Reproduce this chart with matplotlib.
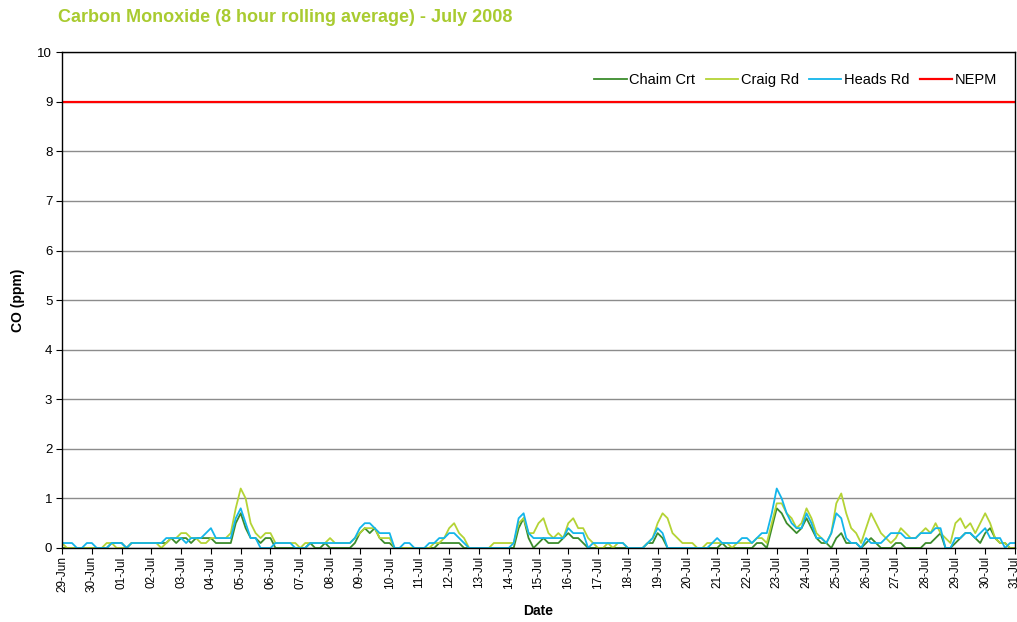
import numpy as np
import pandas as pd
import matplotlib
matplotlib.use("Agg")
import matplotlib.pyplot as plt
import matplotlib.dates as mdates

plt.rcParams["font.family"] = ["Liberation Sans", "DejaVu Sans"]

GREEN = "#3c8c2c"
LIME = "#b4d335"
BLUE = "#13b5ea"
RED = "#ff0000"
TITLE = "#a9cb30"

# 8-hour rolling CO, sampled every 4 hours from 29-Jun 00:00 (one row per day)
chaim_crt = [
    0, 0, 0, 0, 0, 0,
    0, 0, 0, 0, 0.1, 0.1,
    0.1, 0, 0.1, 0.1, 0.1, 0.1,
    0.1, 0.1, 0.1, 0.1, 0.2, 0.1,
    0.2, 0.2, 0.1, 0.2, 0.2, 0.2,
    0.2, 0.1, 0.1, 0.1, 0.1, 0.5,
    0.7, 0.4, 0.2, 0.2, 0.1, 0.2,
    0.2, 0, 0, 0, 0, 0,
    0, 0, 0.1, 0, 0, 0.1,
    0, 0, 0, 0, 0, 0.1,
    0.3, 0.4, 0.3, 0.4, 0.2, 0.1,
    0.1, 0, 0, 0, 0, 0,
    0, 0, 0, 0, 0.1, 0.1,
    0.1, 0.1, 0.1, 0, 0, 0,
    0, 0, 0, 0, 0, 0,
    0, 0, 0.4, 0.6, 0.2, 0,
    0.1, 0.2, 0.1, 0.1, 0.1, 0.2,
    0.3, 0.2, 0.2, 0.1, 0, 0,
    0, 0, 0, 0, 0, 0,
    0, 0, 0, 0, 0.1, 0.1,
    0.3, 0.2, 0, 0, 0, 0,
    0, 0, 0, 0, 0, 0,
    0, 0.1, 0, 0, 0, 0,
    0, 0, 0.1, 0.1, 0, 0.4,
    0.8, 0.7, 0.5, 0.4, 0.3, 0.4,
    0.6, 0.4, 0.2, 0.1, 0.1, 0,
    0.2, 0.3, 0.1, 0.1, 0.1, 0,
    0.1, 0.2, 0.1, 0, 0, 0,
    0.1, 0.1, 0, 0, 0, 0,
    0.1, 0.1, 0.2, 0.3, 0, 0,
    0.1, 0.2, 0.3, 0.3, 0.2, 0.1,
    0.3, 0.4, 0.2, 0.1, 0.1, 0,
    0,
]
craig_rd = [
    0.1, 0, 0, 0, 0, 0,
    0, 0, 0, 0.1, 0.1, 0,
    0, 0, 0.1, 0.1, 0.1, 0.1,
    0.1, 0.1, 0, 0.1, 0.2, 0.2,
    0.3, 0.3, 0.2, 0.2, 0.1, 0.1,
    0.2, 0.2, 0.2, 0.2, 0.3, 0.8,
    1.2, 1.0, 0.5, 0.3, 0.2, 0.3,
    0.3, 0.1, 0.1, 0.1, 0.1, 0.1,
    0, 0.1, 0.1, 0.1, 0.1, 0.1,
    0.2, 0.1, 0.1, 0.1, 0.1, 0.2,
    0.3, 0.4, 0.4, 0.4, 0.2, 0.2,
    0.2, 0, 0, 0, 0, 0,
    0, 0, 0, 0.1, 0.1, 0.2,
    0.4, 0.5, 0.3, 0.2, 0, 0,
    0, 0, 0, 0.1, 0.1, 0.1,
    0.1, 0.1, 0.5, 0.6, 0.3, 0.3,
    0.5, 0.6, 0.3, 0.2, 0.3, 0.2,
    0.5, 0.6, 0.4, 0.4, 0.2, 0.1,
    0, 0, 0.1, 0, 0.1, 0.1,
    0, 0, 0, 0, 0.1, 0.2,
    0.5, 0.7, 0.6, 0.3, 0.2, 0.1,
    0.1, 0.1, 0, 0, 0.1, 0.1,
    0.1, 0.1, 0.1, 0, 0.1, 0.1,
    0.1, 0.1, 0.2, 0.2, 0.1, 0.5,
    0.9, 0.9, 0.7, 0.6, 0.4, 0.5,
    0.8, 0.6, 0.3, 0.2, 0.1, 0.3,
    0.9, 1.1, 0.7, 0.4, 0.3, 0.1,
    0.4, 0.7, 0.5, 0.3, 0.2, 0.1,
    0.2, 0.4, 0.3, 0.2, 0.2, 0.3,
    0.4, 0.3, 0.5, 0.3, 0.2, 0.1,
    0.5, 0.6, 0.4, 0.5, 0.3, 0.5,
    0.7, 0.5, 0.2, 0.1, 0.1, 0,
    0,
]
heads_rd = [
    0.1, 0.1, 0.1, 0, 0, 0.1,
    0.1, 0, 0, 0, 0.1, 0.1,
    0.1, 0, 0.1, 0.1, 0.1, 0.1,
    0.1, 0.1, 0.1, 0.2, 0.2, 0.2,
    0.2, 0.1, 0.2, 0.2, 0.2, 0.3,
    0.4, 0.2, 0.2, 0.2, 0.2, 0.6,
    0.8, 0.5, 0.2, 0.2, 0, 0,
    0, 0.1, 0.1, 0.1, 0.1, 0,
    0, 0, 0.1, 0.1, 0.1, 0.1,
    0.1, 0.1, 0.1, 0.1, 0.1, 0.2,
    0.4, 0.5, 0.5, 0.4, 0.3, 0.3,
    0.3, 0, 0, 0.1, 0.1, 0,
    0, 0, 0.1, 0.1, 0.2, 0.2,
    0.3, 0.3, 0.2, 0.1, 0, 0,
    0, 0, 0, 0, 0, 0,
    0, 0.1, 0.6, 0.7, 0.3, 0.2,
    0.2, 0.2, 0.2, 0.2, 0.2, 0.2,
    0.4, 0.3, 0.3, 0.3, 0, 0.1,
    0.1, 0.1, 0.1, 0.1, 0.1, 0.1,
    0, 0, 0, 0, 0.1, 0.2,
    0.4, 0.3, 0, 0, 0, 0,
    0, 0, 0, 0, 0, 0.1,
    0.2, 0.1, 0.1, 0.1, 0.1, 0.2,
    0.2, 0.1, 0.2, 0.3, 0.3, 0.7,
    1.2, 1.0, 0.7, 0.5, 0.4, 0.4,
    0.7, 0.5, 0.2, 0.2, 0.1, 0.3,
    0.7, 0.6, 0.2, 0.1, 0.1, 0,
    0.2, 0.1, 0.1, 0.1, 0.2, 0.3,
    0.3, 0.3, 0.2, 0.2, 0.2, 0.3,
    0.3, 0.3, 0.4, 0.4, 0, 0,
    0.2, 0.2, 0.3, 0.3, 0.2, 0.3,
    0.4, 0.2, 0.2, 0.2, 0, 0.1,
    0.1,
]
nepm = 9

times = pd.date_range("2008-06-29", periods=len(heads_rd), freq="4h")

fig = plt.figure(figsize=(10.17, 6.22), dpi=100)
ax = fig.add_axes([0.061, 0.119, 0.937, 0.797])

ax.plot(times, chaim_crt, color=GREEN, lw=1.3, label="Chaim Crt")
ax.plot(times, craig_rd, color=LIME, lw=1.3, label="Craig Rd")
ax.plot(times, heads_rd, color=BLUE, lw=1.3, label="Heads Rd")
ax.axhline(nepm, color=RED, lw=1.6, label="NEPM")

ax.set_ylim(0, 10)
ax.set_yticks(range(0, 11))
ax.set_xlim(pd.Timestamp("2008-06-29"), pd.Timestamp("2008-07-31"))
ax.xaxis.set_major_locator(mdates.DayLocator())
ax.xaxis.set_major_formatter(mdates.DateFormatter("%d-%b"))
ax.grid(axis="y", color="#8c8c8c", lw=1)
ax.set_axisbelow(True)

for s in ax.spines.values():
    s.set_color("black")
    s.set_linewidth(1)

ax.tick_params(axis="y", labelsize=9.5, length=4, direction="out", pad=3)
ax.tick_params(axis="x", labelsize=8.5, length=4, direction="out", rotation=90, pad=2)

ax.set_xlabel("Date", fontsize=10, fontweight="bold", labelpad=8)
ax.set_ylabel("CO (ppm)", fontsize=10, fontweight="bold", labelpad=9)

fig.text(0.057, 0.972, "Carbon Monoxide (8 hour rolling average) - July 2008",
         color=TITLE, fontsize=13, fontweight="bold", va="center", ha="left")

ax.legend(loc="upper right", ncol=4, frameon=False, fontsize=10.5,
          handlelength=2.2, handletextpad=0.2, columnspacing=0.7,
          bbox_to_anchor=(0.995, 0.985))

fig.savefig("out.png", dpi=100)
